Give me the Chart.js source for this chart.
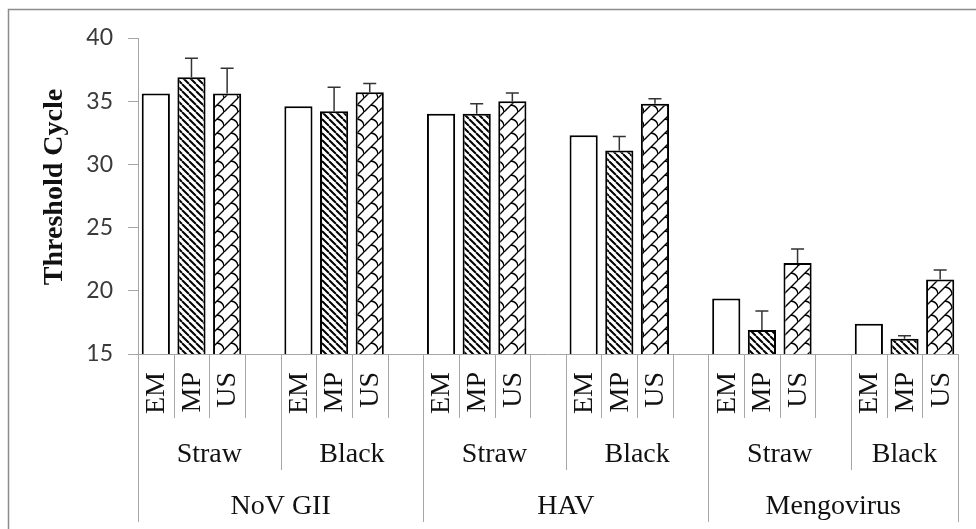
<!DOCTYPE html>
<html>
<head>
<meta charset="utf-8">
<script src="https://cdn.jsdelivr.net/npm/chart.js@4.4.1/dist/chart.umd.min.js"></script>
<style>
  html, body { margin: 0; padding: 0; background: #fff; }
  #wrap { width: 976px; height: 529px; position: relative; }
</style>
</head>
<body>
<div id="wrap"><canvas id="chart"></canvas></div>
<script>
// data
const viruses = ["NoV GII", "HAV", "Mengovirus"];
const papers = ["Straw", "Black"];
const methods = ["EM", "MP", "US"];
const emValues = [35.6, 34.6, 34.0, 32.3, 19.4, 17.4];
const mpValues = [36.9, 34.2, 34.0, 31.1, 16.9, 16.2];
const usValues = [35.6, 35.7, 35.0, 34.8, 22.2, 20.9];
const emErrors = [0, 0, 0, 0, 0, 0];
const mpErrors = [1.5, 1.9, 0.8, 1.1, 1.5, 0.25];
const usErrors = [2.0, 0.7, 0.65, 0.4, 1.1, 0.75];
const yTicks = [15, 20, 25, 30, 35, 40];

const LINE = "#a6a6a6";
const SERIF = "'Liberation Serif', 'Times New Roman', serif";

// one slot per bar, plus an empty slot between paper groups
const labels = [];
const slotGroup = [];
const emData = [], mpData = [], usData = [];
const nGroups = viruses.length * papers.length;
for (let g = 0; g < nGroups; g++) {
  methods.forEach((m, k) => {
    labels.push(m);
    slotGroup.push(g);
    emData.push(k === 0 ? emValues[g] : null);
    mpData.push(k === 1 ? mpValues[g] : null);
    usData.push(k === 2 ? usValues[g] : null);
  });
  if (g < nGroups - 1) {
    labels.push("");
    slotGroup.push(g);
    emData.push(null); mpData.push(null); usData.push(null);
  }
}

// hatch fills
function makePattern(size, draw) {
  const tile = document.createElement("canvas");
  tile.width = size; tile.height = size;
  const c = tile.getContext("2d");
  c.fillStyle = "#fff";
  c.fillRect(0, 0, size, size);
  c.strokeStyle = "#000";
  draw(c, size);
  return document.createElement("canvas").getContext("2d").createPattern(tile, "repeat");
}
const mpFill = makePattern(7, (c, s) => {
  c.lineWidth = 2;
  c.beginPath();
  for (const k of [-s, 0, s]) { c.moveTo(k, 0); c.lineTo(k + s, s); }
  c.stroke();
});
const usFill = makePattern(14, (c, s) => {
  c.lineWidth = 1.4;
  c.beginPath();
  for (const k of [-s, 0, s]) { c.moveTo(k, s); c.lineTo(k + s, 0); }
  // little hooks between the diagonals
  c.moveTo(s / 2, s / 2); c.quadraticCurveTo(s * 0.95, s * 0.55, s, s);
  c.stroke();
});

const decor = {
  id: "decor",
  beforeDraw(chart) {
    const ctx = chart.ctx;
    ctx.save();
    ctx.strokeStyle = "#8c8c8c";
    ctx.lineWidth = 1.5;
    ctx.beginPath();
    ctx.moveTo(8.5, chart.height);
    ctx.lineTo(8.5, 9.5);
    ctx.lineTo(chart.width, 9.5);
    ctx.stroke();
    ctx.restore();
  },
  afterDatasetsDraw(chart) {
    const ctx = chart.ctx;
    const y = chart.scales.y;
    const errs = [emErrors, mpErrors, usErrors];
    ctx.save();
    ctx.strokeStyle = "#333";
    ctx.lineWidth = 1.5;
    chart.data.datasets.forEach((ds, d) => {
      const meta = chart.getDatasetMeta(d);
      ds.data.forEach((v, i) => {
        if (v == null) return;
        const e = errs[d][slotGroup[i]];
        if (!e) return;
        const bar = meta.data[i];
        const top = y.getPixelForValue(v + e);
        ctx.beginPath();
        ctx.moveTo(bar.x, bar.y);
        ctx.lineTo(bar.x, top);
        ctx.moveTo(bar.x - 6.5, top);
        ctx.lineTo(bar.x + 6.5, top);
        ctx.stroke();
      });
    });
    ctx.restore();
  },
  afterDraw(chart) {
    const ctx = chart.ctx;
    const x = chart.scales.x;
    const area = chart.chartArea;
    const n = labels.length;
    const w = (area.right - area.left) / n;
    const base = area.bottom;
    ctx.save();
    // separators
    ctx.strokeStyle = LINE;
    ctx.lineWidth = 1;
    for (let i = 0; i <= n; i++) {
      const px = Math.round(area.left + i * w) + 0.5;
      let end = base + 64;
      if (i === 0 || i === n) end = base + 168;
      else if (labels[i] === "EM" && slotGroup[i] !== slotGroup[i - 1]) {
        end = slotGroup[i] % papers.length === 0 ? base + 168 : base + 116;
      }
      ctx.beginPath();
      ctx.moveTo(px, base);
      ctx.lineTo(px, end);
      ctx.stroke();
    }
    // method labels
    ctx.fillStyle = "#111";
    ctx.font = "28px " + SERIF;
    ctx.textAlign = "right";
    ctx.textBaseline = "middle";
    labels.forEach((lab, i) => {
      if (!lab) return;
      ctx.save();
      ctx.translate(x.getPixelForValue(i) + 1, base + 18);
      ctx.rotate(-Math.PI / 2);
      ctx.fillText(lab, 0, 0);
      ctx.restore();
    });
    // paper and virus labels
    ctx.textAlign = "center";
    ctx.textBaseline = "alphabetic";
    const groupStart = [], groupEnd = [];
    slotGroup.forEach((g, i) => {
      if (groupStart[g] === undefined) groupStart[g] = i;
      groupEnd[g] = i + 1;
    });
    for (let g = 0; g < nGroups; g++) {
      const cx = area.left + (groupStart[g] + groupEnd[g]) / 2 * w;
      ctx.fillText(papers[g % papers.length], cx, base + 108);
    }
    viruses.forEach((v, j) => {
      const s = groupStart[j * papers.length];
      const e = groupEnd[j * papers.length + papers.length - 1];
      ctx.fillText(v, area.left + (s + e) / 2 * w, base + 160);
    });
    // y title
    ctx.font = "bold 28px " + SERIF;
    ctx.textBaseline = "middle";
    ctx.translate(55, 187);
    ctx.rotate(-Math.PI / 2);
    ctx.fillText("Threshold Cycle", 0, 0);
    ctx.restore();
  }
};

const bar = { borderColor: "#000", borderWidth: 2, borderSkipped: false, skipNull: true,
  barPercentage: 0.79, categoryPercentage: 1 };

new Chart(document.getElementById("chart"), {
  type: "bar",
  data: {
    labels: labels,
    datasets: [
      Object.assign({ label: "EM", data: emData, backgroundColor: "#fff" }, bar),
      Object.assign({ label: "MP", data: mpData, backgroundColor: mpFill }, bar),
      Object.assign({ label: "US", data: usData, backgroundColor: usFill }, bar)
    ]
  },
  options: {
    responsive: true,
    maintainAspectRatio: false,
    animation: false,
    events: [],
    layout: { padding: { left: 8, top: 38, right: 18, bottom: 0 } },
    plugins: { legend: { display: false }, tooltip: { enabled: false } },
    scales: {
      x: {
        grid: { display: false },
        ticks: { display: false },
        border: { color: LINE, width: 1 },
        afterFit: (s) => { s.height = 175; }
      },
      y: {
        min: yTicks[0],
        max: yTicks[yTicks.length - 1],
        afterBuildTicks: (s) => { s.ticks = yTicks.map(v => ({ value: v })); },
        grid: { drawOnChartArea: false, tickLength: 10, color: LINE },
        border: { color: LINE, width: 1 },
        ticks: { padding: 15, color: "#3a3a3a", font: { family: "Lato", size: 23 } },
        afterFit: (s) => { s.width = 130; }
      }
    }
  },
  plugins: [decor]
});
</script>
</body>
</html>
